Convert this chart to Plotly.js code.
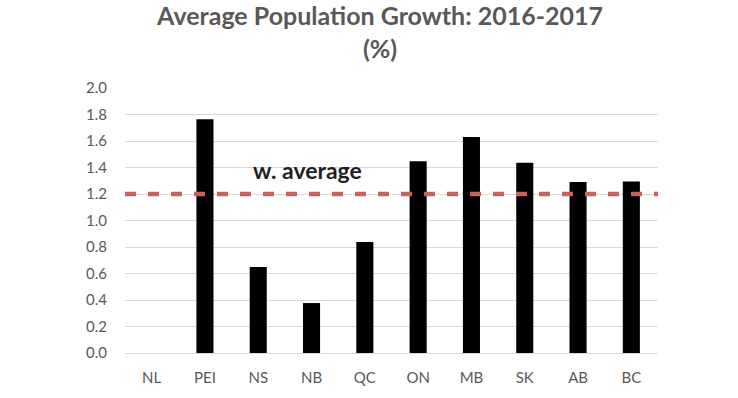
<!DOCTYPE html>
<html>
<head>
<meta charset="utf-8">
<script src="https://cdn.plot.ly/plotly-3.0.1.min.js"></script>
<style>html,body{margin:0;padding:0;background:#fff;}#chart{width:738px;height:398px;}</style>
</head>
<body>
<div id="chart"></div>
<script>
const provinces = ["NL", "PEI", "NS", "NB", "QC", "ON", "MB", "SK", "AB", "BC"];
const growth = [0, 1.765, 0.65, 0.377, 0.838, 1.448, 1.63, 1.435, 1.29, 1.295];
const weightedAverage = 1.2;
const averageLabel = "w. average";
const yTicks = [0, 0.2, 0.4, 0.6, 0.8, 1.0, 1.2, 1.4, 1.6, 1.8, 2.0];
const yTickText = yTicks.map(v => v.toFixed(1));
const chartTitle = "Average Population Growth: 2016-2017<br>(%)";

const FONT = "Lato, 'Open Sans', sans-serif";

Plotly.newPlot("chart", [{
  type: "bar",
  x: provinces,
  y: growth,
  marker: {color: "#000000", line: {width: 0}},
  hoverinfo: "x+y"
}], {
  width: 738, height: 398,
  margin: {l: 125, r: 80, t: 88, b: 45},
  paper_bgcolor: "#ffffff",
  plot_bgcolor: "#ffffff",
  bargap: 0.68,
  showlegend: false,
  title: {
    text: chartTitle,
    font: {family: FONT, size: 25, color: "#595959", weight: "bold"},
    x: 0.515, xanchor: "center",
    y: 0.937, yanchor: "top", yref: "container"
  },
  xaxis: {
    type: "category",
    tickfont: {family: FONT, size: 15, color: "#595959"},
    showgrid: false, zeroline: false, showline: false,
    ticks: "outside", ticklen: 11, tickcolor: "rgba(0,0,0,0)"
  },
  yaxis: {
    range: [0, 2.0],
    tickvals: yTicks,
    ticktext: yTickText,
    tickfont: {family: FONT, size: 15, color: "#595959"},
    showgrid: true, gridcolor: "#d9d9d9", gridwidth: 1,
    zeroline: true, zerolinecolor: "#d9d9d9", zerolinewidth: 1,
    showline: false, ticks: "outside", ticklen: 14, tickcolor: "rgba(0,0,0,0)"
  },
  shapes: [{
    type: "line", xref: "paper", x0: 0, x1: 1,
    yref: "y", y0: weightedAverage, y1: weightedAverage,
    line: {color: "#C9625C", width: 4.5, dash: "11px,12px"},
    layer: "above"
  }],
  annotations: [{
    text: averageLabel,
    xref: "paper", x: 0.342, xanchor: "center",
    yref: "y", y: 1.38, yanchor: "middle",
    showarrow: false,
    font: {family: FONT, size: 23, color: "#1f1f1f", weight: "bold"}
  }]
}, {displayModeBar: false, staticPlot: true});
</script>
</body>
</html>
